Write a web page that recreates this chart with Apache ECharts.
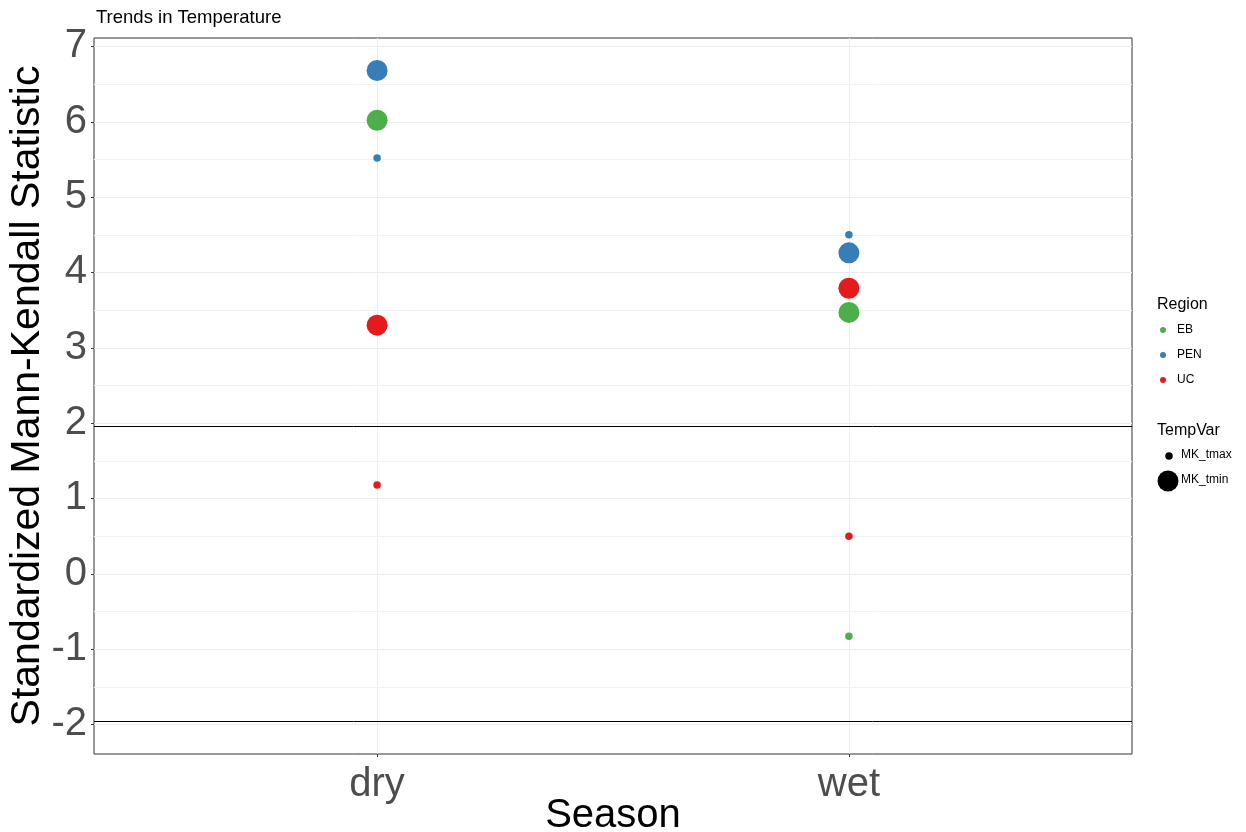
<!DOCTYPE html>
<html>
<head>
<meta charset="utf-8">
<script src="https://cdn.jsdelivr.net/npm/echarts@6/dist/echarts.min.js"></script>
<style>
  html, body { margin: 0; padding: 0; background: #fff; }
  #chart { width: 1246px; height: 832px; }
</style>
</head>
<body>
<div id="chart"></div>
<script>
// Seasons on the x axis, regions coloured, temperature variables sized
const seasons = ['dry', 'wet'];
const regions = ['EB', 'PEN', 'UC'];
const regionColors = ['#4DAF4A', '#377EB8', '#E41A1C'];
const tempVars = ['MK_tmax', 'MK_tmin'];

// Mann-Kendall Z per region, ordered [dry, wet]
const tmaxEB = [3.22, -0.83];
const tminEB = [6.02, 3.47];
const tmaxPEN = [5.52, 4.50];
const tminPEN = [6.68, 4.26];
const tmaxUC = [1.18, 0.50];
const tminUC = [3.30, 3.79];

// Axis ticks and the two-sided 5% significance thresholds
const yTicks = [-2, -1, 0, 1, 2, 3, 4, 5, 6, 7];
const yMinorTicks = [-1.5, -0.5, 0.5, 1.5, 2.5, 3.5, 4.5, 5.5, 6.5];
const sigLevels = [1.96, -1.96];

const regionValues = {
  EB: { MK_tmax: tmaxEB, MK_tmin: tminEB },
  PEN: { MK_tmax: tmaxPEN, MK_tmin: tminPEN },
  UC: { MK_tmax: tmaxUC, MK_tmin: tminUC }
};
const sizeByVar = { MK_tmax: 7.5, MK_tmin: 21 };

// ggplot-style limits: data range incl. thresholds, padded by 5%
const allVals = [].concat(tmaxEB, tminEB, tmaxPEN, tminPEN, tmaxUC, tminUC, sigLevels);
const lo = Math.min.apply(null, allVals), hi = Math.max.apply(null, allVals);
const pad = (hi - lo) * 0.05;
const yMin = lo - pad, yMax = hi + pad;

const FONT = '"Liberation Sans", Arial, sans-serif';

const pointSeries = regions.map((r, i) => {
  const data = [];
  tempVars.forEach(v => {
    regionValues[r][v].forEach((val, s) => {
      data.push({ value: [s + 1, val], symbolSize: sizeByVar[v] });
    });
  });
  return {
    name: r,
    type: 'scatter',
    z: 10 + i,
    itemStyle: { color: regionColors[i], opacity: 1 },
    emphasis: { disabled: true },
    data
  };
});

// Minor grid and threshold lines, kept behind the points
const lineSeries = {
  name: 'lines',
  type: 'scatter',
  z: 1,
  data: [],
  silent: true,
  markLine: {
    z: 1,
    silent: true,
    symbol: 'none',
    label: { show: false },
    animation: false,
    data: yMinorTicks.map(v => ({ yAxis: v, lineStyle: { color: '#F2F2F2', width: 1, type: 'solid' } }))
      .concat(sigLevels.map(v => ({ yAxis: v, lineStyle: { color: '#000000', width: 1, type: 'solid' } })))
  }
};

const chart = echarts.init(document.getElementById('chart'), null, { renderer: 'canvas' });
chart.setOption({
  animation: false,
  backgroundColor: '#ffffff',
  textStyle: { fontFamily: FONT },
  title: {
    text: 'Trends in Temperature',
    left: 96, top: 8, padding: 0,
    textStyle: { fontFamily: FONT, fontSize: 18.5, fontWeight: 'normal', color: '#000' }
  },
  grid: {
    left: 94, right: 114, top: 38, bottom: 78,
    outerBoundsMode: 'none',
    containLabel: false,
    show: true, borderColor: '#333333', borderWidth: 1, backgroundColor: 'transparent'
  },
  xAxis: {
    type: 'value',
    min: 0.4, max: seasons.length + 0.6,
    name: 'Season',
    nameLocation: 'middle',
    nameGap: 42,
    nameMoveOverlap: false,
    nameTextStyle: { fontFamily: FONT, fontSize: 40, color: '#000' },
    axisLine: { show: false, onZero: false },
    axisTick: { show: true, length: 3, customValues: seasons.map((s, i) => i + 1), lineStyle: { color: '#333' } },
    axisLabel: {
      customValues: seasons.map((s, i) => i + 1),
      formatter: v => seasons[Math.round(v) - 1] || '',
      margin: 11, fontSize: 40, color: '#4D4D4D', fontFamily: FONT
    },
    splitLine: { show: true, lineStyle: { color: '#EBEBEB', width: 1 } }
  },
  yAxis: {
    type: 'value',
    min: yMin, max: yMax,
    name: 'Standardized Mann-Kendall Statistic',
    nameLocation: 'middle',
    nameGap: 46,
    nameMoveOverlap: false,
    nameTextStyle: { fontFamily: FONT, fontSize: 41, color: '#000' },
    axisLine: { show: false, onZero: false },
    axisTick: { show: true, length: 3, customValues: yTicks, lineStyle: { color: '#333' } },
    axisLabel: {
      customValues: yTicks,
      margin: 7, fontSize: 40, color: '#4D4D4D', fontFamily: FONT
    },
    splitLine: { show: true, lineStyle: { color: '#EBEBEB', width: 1 } }
  },
  legend: {
    data: regions,
    orient: 'vertical',
    left: 1160, top: 323,
    padding: 0,
    itemWidth: 18, itemHeight: 6, itemGap: 11,
    icon: 'circle',
    selectedMode: false,
    textStyle: { fontFamily: FONT, fontSize: 12, color: '#000', lineHeight: 14 }
  },
  graphic: [
    { type: 'text', left: 1157, top: 297, style: { text: 'Region', font: '16px ' + FONT, fill: '#000' } },
    { type: 'text', left: 1157, top: 423, style: { text: 'TempVar', font: '16px ' + FONT, fill: '#000' } },
    { type: 'circle', shape: { cx: 1169, cy: 456, r: sizeByVar.MK_tmax / 2 }, style: { fill: '#000' } },
    { type: 'circle', shape: { cx: 1168, cy: 481, r: sizeByVar.MK_tmin / 2 }, style: { fill: '#000' } },
    { type: 'text', left: 1181, top: 449, style: { text: tempVars[0], font: '12px ' + FONT, fill: '#000' } },
    { type: 'text', left: 1181, top: 474, style: { text: tempVars[1], font: '12px ' + FONT, fill: '#000' } }
  ],
  series: [lineSeries].concat(pointSeries)
});
</script>
</body>
</html>
